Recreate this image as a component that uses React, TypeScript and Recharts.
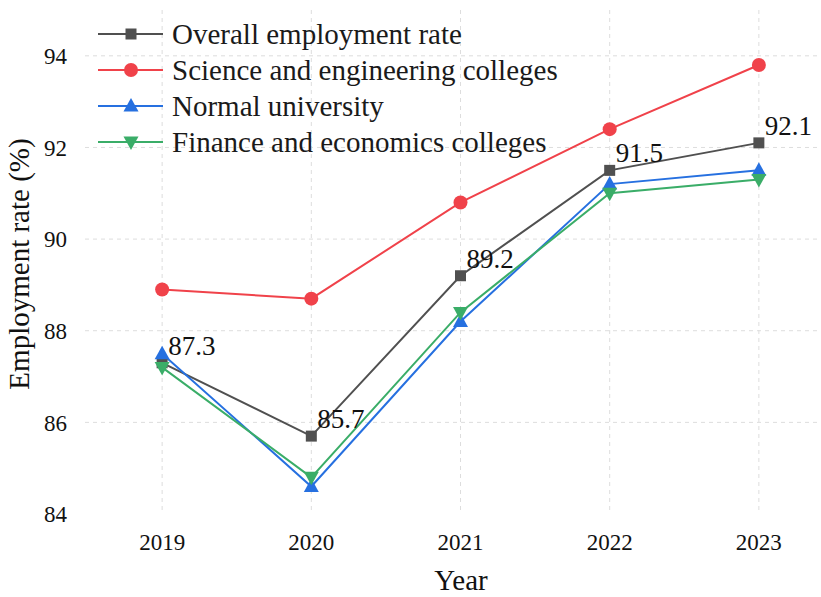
import React from 'react';
import { LineChart, Line, XAxis, YAxis, CartesianGrid, Legend, LabelList } from 'recharts';

const years = [2019, 2020, 2021, 2022, 2023];
const overall = [87.3, 85.7, 89.2, 91.5, 92.1];
const science = [88.9, 88.7, 90.8, 92.4, 93.8];
const normal = [87.5, 84.6, 88.2, 91.2, 91.5];
const finance = [87.2, 84.8, 88.4, 91.0, 91.3];
const yTicks = [84, 86, 88, 90, 92, 94];
const seriesNames = [
  'Overall employment rate',
  'Science and engineering colleges',
  'Normal university',
  'Finance and economics colleges',
];

const data = years.map((year, i) => ({
  year,
  overall: overall[i],
  science: science[i],
  normal: normal[i],
  finance: finance[i],
}));

const FONT = '"Liberation Serif", "Times New Roman", Times, serif';
const COLORS = ['#505050', '#F0424A', '#2670E0', '#3AAD68'];
const SHAPES = ['square', 'circle', 'up', 'down'];
const Y_MIN = 84;
const Y_MAX = 95;
const X_MIN = 2018.483;
const X_MAX = 2023.517;

function Marker({ shape, cx, cy, color }: { shape: string; cx: number; cy: number; color: string }) {
  if (shape === 'square') return <rect x={cx - 5.5} y={cy - 5.5} width={11} height={11} fill={color} />;
  if (shape === 'circle') return <circle cx={cx} cy={cy} r={7} fill={color} />;
  if (shape === 'up')
    return <polygon points={`${cx},${cy - 8} ${cx - 7.5},${cy + 5.5} ${cx + 7.5},${cy + 5.5}`} fill={color} />;
  return <polygon points={`${cx},${cy + 8} ${cx - 7.5},${cy - 5.5} ${cx + 7.5},${cy - 5.5}`} fill={color} />;
}

const makeDot = (idx: number) => (props: any) => {
  const { cx, cy, index } = props;
  if (cx == null || cy == null) return <g key={`d${idx}-${index}`} />;
  return (
    <g key={`d${idx}-${index}`}>
      <Marker shape={SHAPES[idx]} cx={cx} cy={cy} color={COLORS[idx]} />
    </g>
  );
};

const renderLegend = () => (
  <div style={{ fontFamily: FONT }}>
    {seriesNames.map((name, i) => (
      <div key={name} style={{ display: 'flex', alignItems: 'center', height: 36 }}>
        <svg width={74} height={36} style={{ display: 'block' }}>
          <line x1={0} y1={18} x2={65} y2={18} stroke={COLORS[i]} strokeWidth={2} />
          <Marker shape={SHAPES[i]} cx={33} cy={18} color={COLORS[i]} />
        </svg>
        <span style={{ fontSize: 29, color: '#1a1a1a', whiteSpace: 'nowrap', lineHeight: '36px' }}>{name}</span>
      </div>
    ))}
  </div>
);

const renderValueLabel = (props: any) => {
  const { x, y, value } = props;
  return (
    <text x={Number(x) + 6} y={Number(y) - 8} fontSize={27} fill="#111" fontFamily={FONT}>
      {Number(value).toFixed(1)}
    </text>
  );
};

const YTitle = () => (
  <text transform="translate(29, 264) rotate(-90)" textAnchor="middle" fontSize={29} fill="#111" fontFamily={FONT}>
    Employment rate (%)
  </text>
);

const XTitle = () => (
  <text x={461} y={590} textAnchor="middle" fontSize={29} fill="#111" fontFamily={FONT}>
    Year
  </text>
);

const horizontalGen = (props: any) => {
  const { yAxis, offset } = props || {};
  const visible = yTicks.filter((t) => t > Y_MIN);
  const s = yAxis && yAxis.scale;
  if (typeof s === 'function') return visible.map((t) => s(t));
  return visible.map((t) => offset.top + (offset.height * (Y_MAX - t)) / (Y_MAX - Y_MIN));
};

const verticalGen = (props: any) => {
  const { xAxis, offset } = props || {};
  const s = xAxis && xAxis.scale;
  if (typeof s === 'function') return years.map((t) => s(t));
  return years.map((t) => offset.left + (offset.width * (t - X_MIN)) / (X_MAX - X_MIN));
};

export default function App() {
  return (
    <div
      style={{
        position: 'absolute',
        left: 0,
        top: 0,
        width: 821,
        height: 597,
        overflow: 'hidden',
        background: '#fff',
        fontFamily: FONT,
      }}
    >
      <LineChart width={836} height={597} data={data} margin={{ top: 10, right: 0, bottom: 0, left: 0 }}>
        <CartesianGrid
          stroke="#dddddd"
          strokeDasharray="4 4"
          horizontalCoordinatesGenerator={horizontalGen}
          verticalCoordinatesGenerator={verticalGen}
        />
        <XAxis
          dataKey="year"
          type="number"
          domain={[X_MIN, X_MAX]}
          ticks={years}
          height={83}
          axisLine={false}
          tickLine={false}
          tickSize={0}
          tickMargin={20}
          tick={{ fontSize: 23, fill: '#111', fontFamily: FONT }}
          label={<XTitle />}
        />
        <YAxis
          type="number"
          domain={[Y_MIN, Y_MAX]}
          ticks={yTicks}
          width={85}
          axisLine={false}
          tickLine={false}
          tickSize={0}
          tickMargin={18}
          tick={{ fontSize: 23, fill: '#111', fontFamily: FONT }}
          label={<YTitle />}
        />
        <Legend
          layout="horizontal"
          verticalAlign="middle"
          align="center"
          content={renderLegend}
          wrapperStyle={{ top: 16, left: 98, width: 540, height: 144 }}
        />
        <Line dataKey="overall" name={seriesNames[0]} stroke={COLORS[0]} strokeWidth={2} dot={makeDot(0)} activeDot={false} isAnimationActive={false}>
          <LabelList dataKey="overall" content={renderValueLabel} />
        </Line>
        <Line dataKey="science" name={seriesNames[1]} stroke={COLORS[1]} strokeWidth={2} dot={makeDot(1)} activeDot={false} isAnimationActive={false} />
        <Line dataKey="normal" name={seriesNames[2]} stroke={COLORS[2]} strokeWidth={2} dot={makeDot(2)} activeDot={false} isAnimationActive={false} />
        <Line dataKey="finance" name={seriesNames[3]} stroke={COLORS[3]} strokeWidth={2} dot={makeDot(3)} activeDot={false} isAnimationActive={false} />
      </LineChart>
    </div>
  );
}
